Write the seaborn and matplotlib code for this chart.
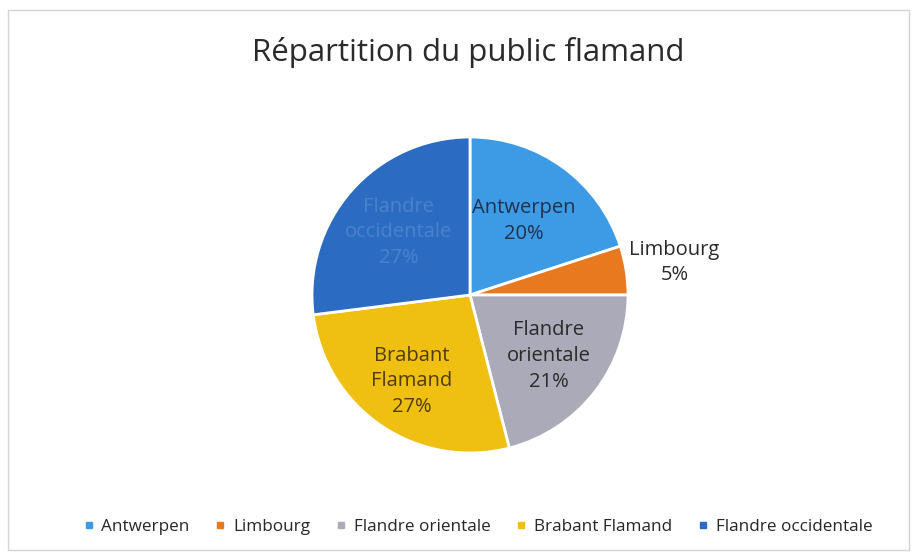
import numpy as np
import matplotlib
matplotlib.use("Agg")
import matplotlib.pyplot as plt
import seaborn as sns
from matplotlib.patches import Rectangle
from matplotlib.lines import Line2D

categories = ["Antwerpen", "Limbourg", "Flandre orientale", "Brabant Flamand", "Flandre occidentale"]
values = [20, 5, 21, 27, 27]
slice_labels = ["Antwerpen", "Limbourg", "Flandre\norientale", "Brabant\nFlamand", "Flandre\noccidentale"]
colors = ["#3d9be6", "#e8791f", "#aaaab8", "#efbf12", "#2b6cc2"]
label_colors = ["#23304a", "#2a2a2a", "#2a2a2a", "#4f3c0c", "#4a82cc"]
title = "Répartition du public flamand"

sns.set_theme(style="white")
plt.rcParams['font.family'] = ['Open Sans', 'DejaVu Sans']

W, H = 917, 560
fig = plt.figure(figsize=(W / 100, H / 100), dpi=100)
fig.patch.set_facecolor("white")

cx, cy, r = 470, 295, 158
ax = fig.add_axes([(cx - r) / W, (H - cy - r) / H, 2 * r / W, 2 * r / H])

wedges, _ = ax.pie(values, colors=colors, startangle=90, counterclock=False,
                   wedgeprops=dict(edgecolor="white", linewidth=2))
ax.set_xlim(-1, 1)
ax.set_ylim(-1, 1)
ax.set_aspect("equal")
ax.axis("off")

dists = [0.58, 1.31, 0.63, 0.66, 0.60]
total = sum(values)
for w, lab, v, d, c in zip(wedges, slice_labels, values, dists, label_colors):
    ang = np.deg2rad((w.theta1 + w.theta2) / 2)
    pct = f"{round(100 * v / total)}%"
    ax.text(d * np.cos(ang), d * np.sin(ang), f"{lab}\n{pct}", ha="center", va="center",
            fontsize=14.5, color=c, linespacing=1.38)

fig.text(468 / W, 1 - 52 / H, title, ha="center", va="center", fontsize=22.5, color="#2a2a2a")

handles = [Line2D([], [], marker="s", linestyle="", markersize=5, markerfacecolor=col,
                  markeredgecolor=col) for col in colors]
fig.legend(handles, categories, loc="center", bbox_to_anchor=(478 / W, 1 - 527 / H),
           ncol=5, frameon=False, fontsize=12.3, handlelength=0.6, handletextpad=0.45,
           columnspacing=1.5)

fig.add_artist(Rectangle((8 / W, 10 / H), (W - 16) / W, (H - 20) / H, transform=fig.transFigure,
                         fill=False, edgecolor="#d4d4d4", linewidth=1))

fig.savefig("out.png", dpi=100, facecolor="white")
